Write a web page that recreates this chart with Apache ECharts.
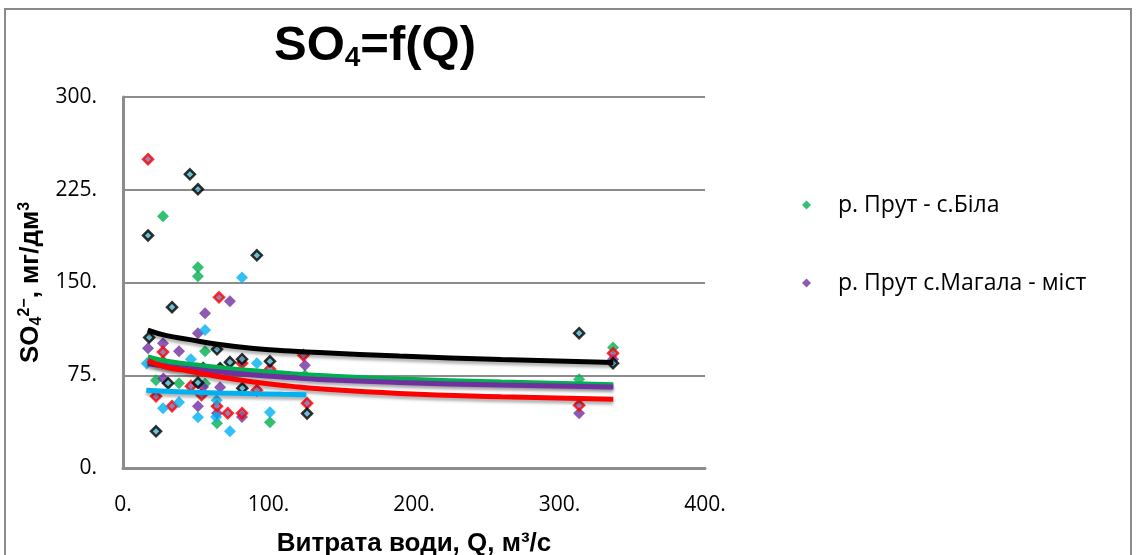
<!DOCTYPE html>
<html>
<head>
<meta charset="utf-8">
<script src="https://cdn.jsdelivr.net/npm/echarts@6/dist/echarts.min.js"></script>
<style>
  html, body { margin: 0; padding: 0; background: #fff; overflow: hidden; }
  #chart { width: 1137px; height: 555px; }
</style>
</head>
<body>
<div id="chart"></div>
<script>
// Discharge Q (m3/s) vs sulfate concentration (mg/dm3), points per station
const bilaPoints = [
  [27.5, 203.5], [51.5, 162.4], [51.5, 155], [56.4, 94.4], [22.7, 71], [64.6, 36.2],
  [101, 37], [38.5, 68.6], [125, 75], [56.4, 68.4], [336.8, 97.5], [313.5, 71.8]
];
const magalaPoints = [
  [73.5, 134.9], [56.4, 125.2], [51.5, 109], [17.2, 96.9], [27.5, 100.9], [38.5, 94.4],
  [125, 83.1], [51.5, 50], [64.6, 44.3], [66.7, 65.3], [55, 65.5], [27.7, 72.3],
  [81.8, 41.3], [336.8, 88], [313.5, 44.3]
];
const station3Points = [
  [17.2, 249.7], [66, 138], [27.5, 93.7], [27.5, 85.6], [81.8, 84.8], [101, 79.9],
  [46.7, 66.2], [64.6, 50], [33.7, 50], [22.7, 58], [72, 44.3], [81.8, 44.3],
  [126.5, 52.4], [124, 91.2], [92, 62.9], [54, 59], [336.8, 92.8], [313.5, 50.7]
];
const station4Points = [
  [17.2, 188], [46, 237.5], [51.5, 225.4], [92, 172], [33.7, 130], [18, 105.6],
  [64.6, 96], [73.5, 85.6], [81.8, 88], [101, 86.3], [66.7, 80.7], [55, 80.7],
  [31, 68.6], [51.5, 69], [82, 64.5], [126.5, 44], [22.7, 29.7], [313.5, 109], [336.8, 84.7]
];
const station5Points = [
  [81.8, 154], [56.4, 111.5], [46.7, 88], [92, 84.8], [16.3, 84.5], [27.5, 48.3],
  [51.5, 41], [73.5, 29.7], [101, 45], [38.5, 53.2], [64.4, 54.8], [64, 41.3]
];

// Trend curves
const bilaTrend = [[17, 89.8], [30, 86.3], [45, 84], [65, 81.3], [90, 78.6], [115, 76.3], [135, 74.8], [190, 72], [260, 69.5], [337, 67.3]];
const magalaTrend = [[17, 84.5], [30, 82.3], [45, 80.4], [65, 77.8], [90, 75.2], [115, 73.1], [135, 71.6], [190, 69.2], [260, 67.1], [337, 65.5]];
const station3Trend = [[17, 87], [30, 81.5], [45, 78.5], [65, 74], [90, 69.6], [115, 66.2], [135, 64], [190, 60.3], [260, 57.6], [337, 55.5]];
const station4Trend = [[17, 111.5], [30, 107], [45, 104], [65, 100], [90, 96.6], [115, 94.6], [135, 93.3], [190, 90.5], [260, 87.8], [337, 85.3]];
const station5Trend = [[16, 62.9], [30, 62], [45, 61.5], [65, 60.7], [90, 60.1], [110, 59.6], [126, 59.2]];

const seriesNames = ['р. Прут - с.Біла', 'р. Прут с.Магала - міст', 'Пост 3', 'Пост 4', 'Пост 5'];
const xTicks = { min: 0, max: 400, step: 100 };
const yTicks = { min: 0, max: 300, step: 75 };

const GREEN = '#00b050', PURPLE = '#7030a0', RED = '#ff0000', BLACK = '#000000', CYAN = '#00b0f0';
const GRID_GRAY = '#8c8c8c';
const labelFont = 'Open Sans';
const headFont = 'Liberation Sans';

function scatter(name, data, fill, border) {
  return {
    name: name, type: 'scatter', data: data, symbol: 'diamond',
    symbolSize: border ? 10 : 12, z: 2,
    itemStyle: border ? { color: fill, borderColor: border, borderWidth: 2.5 } : { color: fill },
    emphasis: { disabled: true }
  };
}
function trend(data, color) {
  return {
    type: 'line', data: data, smooth: true, showSymbol: false, symbol: 'none', z: 5,
    lineStyle: { color: color, width: 5, shadowColor: 'rgba(0,0,0,0.3)', shadowBlur: 3, shadowOffsetY: 3 },
    silent: true, legendHoverLink: false
  };
}

const chart = echarts.init(document.getElementById('chart'), null, { renderer: 'canvas' });
chart.setOption({
  animation: false,
  backgroundColor: '#ffffff',
  graphic: [
    { type: 'rect', shape: { x: 5, y: 9, width: 1126, height: 560 }, style: { fill: 'none', stroke: '#8a8a8a', lineWidth: 2 }, z: -1 },
    {
      type: 'text', left: 274, top: 22,
      style: {
        text: '{m|SO}{s|4}{m|=f(Q)}',
        rich: {
          m: { fontFamily: headFont, fontWeight: 'bold', fontSize: 49, fill: '#000' },
          s: { fontFamily: headFont, fontWeight: 'bold', fontSize: 28, fill: '#000', verticalAlign: 'bottom', padding: [24, 0, 0, 0] }
        }
      }
    }
  ],
  grid: { left: 123, right: 432, top: 97, bottom: 87, outerBoundsMode: 'none', containLabel: false },
  legend: {
    orient: 'vertical', left: 797, top: 188, itemGap: 54,
    data: [
      { name: seriesNames[0], icon: 'diamond', itemStyle: { color: GREEN } },
      { name: seriesNames[1], icon: 'diamond', itemStyle: { color: PURPLE } }
    ],
    itemWidth: 9, itemHeight: 9,
    textStyle: { fontFamily: labelFont, fontSize: 23, lineHeight: 24, color: '#000', padding: [0, 0, 0, 22] }
  },
  xAxis: {
    type: 'value', min: xTicks.min, max: xTicks.max, interval: xTicks.step,
    name: 'Витрата води, Q, м³/с', nameLocation: 'middle', nameGap: 63,
    nameTextStyle: { fontFamily: headFont, fontWeight: 'bold', fontSize: 26, color: '#000' },
    axisLine: { show: true, onZero: false, lineStyle: { color: GRID_GRAY, width: 3 } },
    axisTick: { show: false },
    splitLine: { show: false },
    axisLabel: { formatter: v => v + '.', margin: 27, fontFamily: labelFont, fontSize: 21, color: '#000' }
  },
  yAxis: {
    type: 'value', min: yTicks.min, max: yTicks.max, interval: yTicks.step,
    name: '{b|SO}{sb|4}{sp|2−}{b|, мг/дм}{sp|3}', nameLocation: 'middle', nameGap: 77, nameRotate: 90,
    nameTextStyle: {
      rich: {
        b: { fontFamily: headFont, fontWeight: 'bold', fontSize: 26, color: '#000' },
        sb: { fontFamily: headFont, fontWeight: 'bold', fontSize: 16, color: '#000', verticalAlign: 'bottom', padding: [12, 0, 0, 0] },
        sp: { fontFamily: headFont, fontWeight: 'bold', fontSize: 16, color: '#000', verticalAlign: 'top', padding: [0, 0, 12, 0] }
      }
    },
    axisLine: { show: true, lineStyle: { color: GRID_GRAY, width: 3 } },
    axisTick: { show: false },
    splitLine: { show: true, lineStyle: { color: GRID_GRAY, width: 2 } },
    axisLabel: { formatter: v => v + '.', margin: 26, fontFamily: labelFont, fontSize: 21, color: '#000' }
  },
  series: [
    scatter(seriesNames[0], bilaPoints, GREEN),
    scatter(seriesNames[1], magalaPoints, PURPLE),
    scatter(seriesNames[2], station3Points, '#7f5f9f', RED),
    scatter(seriesNames[3], station4Points, '#4bacc6', BLACK),
    scatter(seriesNames[4], station5Points, CYAN),
    trend(station4Trend, BLACK),
    trend(bilaTrend, GREEN),
    trend(magalaTrend, PURPLE),
    trend(station3Trend, RED),
    trend(station5Trend, CYAN)
  ]
});
</script>
</body>
</html>
